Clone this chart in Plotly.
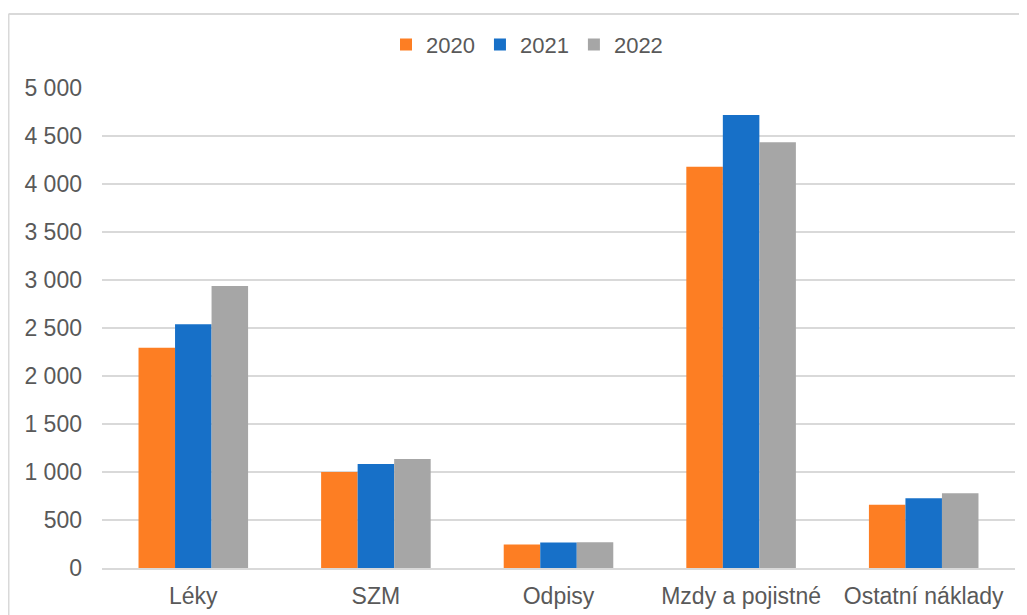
import plotly.graph_objects as go

categories = ["Léky", "SZM", "Odpisy", "Mzdy a pojistné", "Ostatní náklady"]
years = ["2020", "2021", "2022"]
v2020 = [2295, 1000, 245, 4180, 660]
v2021 = [2540, 1083, 266, 4720, 726]
v2022 = [2938, 1136, 268, 4436, 778]
colors = ["#FD7E23", "#1770C8", "#A6A6A6"]
y_ticks = [0, 500, 1000, 1500, 2000, 2500, 3000, 3500, 4000, 4500, 5000]

fig = go.Figure()
for name, vals, col in zip(years, [v2020, v2021, v2022], colors):
    fig.add_trace(go.Bar(name=name, x=categories, y=vals, marker=dict(color=col, line=dict(width=0))))

fam = "Liberation Sans, Arial, sans-serif"
legfont = dict(family=fam, size=22, color="#595959")
xfont = dict(family=fam, size=23, color="#595959")
yfont = dict(family=fam, size=23, color="#595959")
fig.update_layout(
    width=1019, height=607,
    margin=dict(l=94, r=12, t=80, b=47),
    paper_bgcolor="white", plot_bgcolor="white",
    barmode="group", bargap=0.4, bargroupgap=0,
    separators=", ",
    font=legfont,
    legend=dict(orientation="h", x=0.4655, xanchor="center", y=1.09, yanchor="middle",
                font=legfont, itemwidth=30, traceorder="normal"),
    xaxis=dict(showgrid=False, showline=True, linecolor="#D9D9D9", linewidth=1.5,
               ticks="", tickfont=xfont, ticklabelstandoff=7, automargin=False),
    yaxis=dict(range=[0, 5000], tickvals=y_ticks, tickformat=",d", showgrid=True,
               gridcolor="#D9D9D9", gridwidth=1.5, zeroline=False, showline=False,
               ticks="", tickfont=yfont, ticklabelstandoff=19, automargin=False),
    shapes=[
        dict(type="line", xref="paper", yref="paper", x0=-0.1024, x1=-0.1024, y0=-0.2, y1=1.154,
             line=dict(color="#D9D9D9", width=2)),
        dict(type="line", xref="paper", yref="paper", x0=-0.1024, x1=1.1, y0=1.154, y1=1.154,
             line=dict(color="#D9D9D9", width=2)),
    ],
)
fig.write_html("out.html")
